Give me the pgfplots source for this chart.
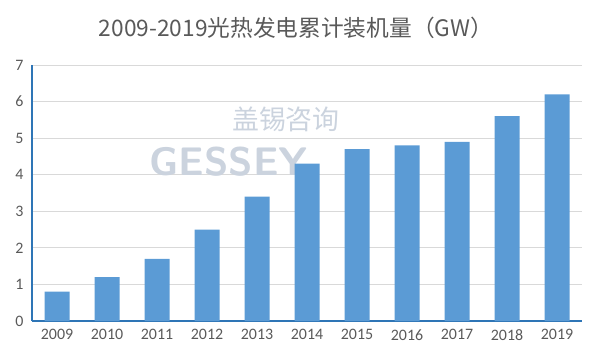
\documentclass[border=0pt]{standalone}
\usepackage{pgfplots}
\pgfplotsset{compat=1.18}
\usepackage{fontspec}
\setmainfont{Carlito}
\newfontfamily\cjk{Noto Sans CJK SC}
\definecolor{barblue}{HTML}{5B9BD5}
\definecolor{axblue}{HTML}{2E75B6}
\definecolor{txtgray}{HTML}{595959}
\definecolor{gridgray}{HTML}{D9D9D9}
\definecolor{wmark}{HTML}{CBD3DE}
\begin{document}
\begin{tikzpicture}
\useasboundingbox (0,0) rectangle (600bp,360bp);
\node[text=txtgray, font=\cjk\fontsize{22.8}{25}\selectfont] at (296bp,332bp) {2009-2019光热发电累计装机量（GW）};
\begin{axis}[
  at={(32bp,39bp)}, anchor=south west,
  scale only axis, width=550bp, height=256bp,
  xmin=-0.5, xmax=10.5, ymin=0, ymax=7,
  ybar, bar width=25bp,
  xtick={0,...,10},
  xticklabels={2009,2010,2011,2012,2013,2014,2015,2016,2017,2018,2019},
  ytick={0,...,7},
  ymajorgrids, grid style={gridgray, line width=1pt},
  axis x line*=bottom, axis y line*=left,
  x axis line style={axblue, line width=2.2pt, -},
  y axis line style={axblue, line width=2.6pt, -},
  major tick length=0pt,
  tick label style={text=txtgray, font=\fontsize{16}{18}\selectfont},
  /pgf/number format/assume math mode=true,
  xticklabel style={yshift=-5bp},
  yticklabel style={xshift=-5bp},
]
\node[text=wmark, font=\cjk\fontsize{27}{29}\selectfont, anchor=west, inner sep=0pt] at (axis cs:3.5,5.52) {盖锡咨询};
\node[text=wmark, font=\sffamily\bfseries\fontsize{40}{42}\selectfont, anchor=west, inner sep=0pt] at (axis cs:1.85,4.35) {GESSEY};
\addplot[fill=barblue, draw=none] coordinates {
(0,0.8) (1,1.2) (2,1.7) (3,2.5) (4,3.4) (5,4.3) (6,4.7) (7,4.8) (8,4.9) (9,5.6) (10,6.2)};
\end{axis}
\end{tikzpicture}
\end{document}
